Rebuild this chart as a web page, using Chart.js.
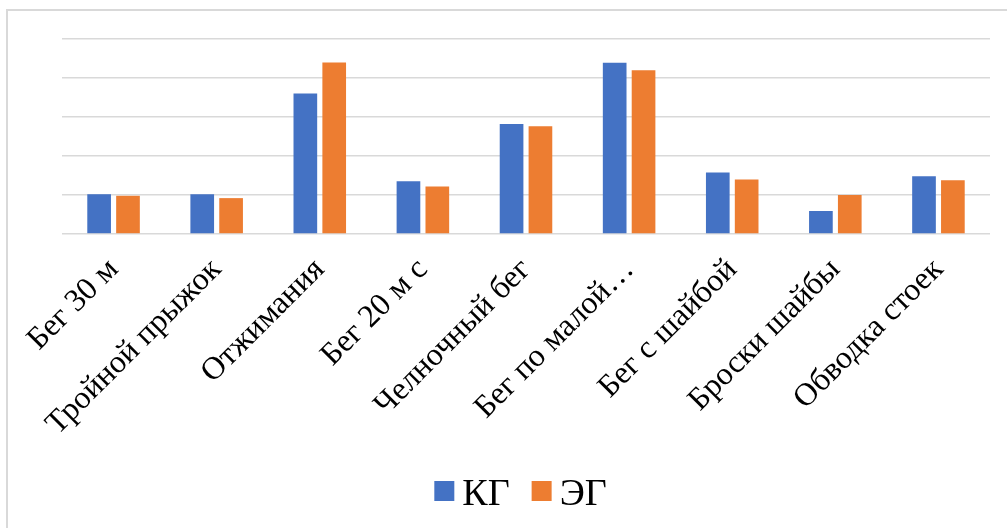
<!DOCTYPE html>
<html>
<head>
<meta charset="utf-8">
<script src="https://cdn.jsdelivr.net/npm/chart.js@4/dist/chart.umd.min.js"></script>
<style>
  html, body { margin: 0; padding: 0; background: #fff; }
  body { width: 1007px; height: 528px; overflow: hidden; position: relative; }
  #frame {
    position: absolute; left: 6px; top: 9px;
    width: 1001px; height: 519px;
    border-left: 2px solid #d9d9d9; border-top: 2px solid #d9d9d9;
    box-sizing: border-box;
  }
  #wrap { position: absolute; left: 0; top: 0; width: 999px; height: 517px; }
</style>
</head>
<body>
<div id="frame"><div id="wrap"><canvas id="chart"></canvas></div></div>
<script>
// Тесты и результаты контрольной (КГ) и экспериментальной (ЭГ) групп
const categories = [
  'Бег 30 м', 'Тройной прыжок', 'Отжимания', 'Бег 20 м с',
  'Челночный бег', 'Бег по малой…', 'Бег с шайбой', 'Броски шайбы', 'Обводка стоек'
];
const seriesNames = ['КГ', 'ЭГ'];
const kgValues = [1.02, 1.02, 3.60, 1.35, 2.82, 4.39, 1.58, 0.59, 1.48];
const egValues = [0.98, 0.92, 4.40, 1.22, 2.76, 4.20, 1.40, 1.00, 1.38];
const yTicks = [0, 1, 2, 3, 4, 5];

const serif = '"Liberation Serif", "Times New Roman", serif';

// Компактная легенда внизу: квадрат цвета серии и подпись рядом
const compactLegend = {
  id: 'compactLegend',
  afterDraw(chart) {
    const ctx = chart.ctx;
    const box = 20, gap = 8, itemGap = 22, fontSize = 38;
    ctx.save();
    ctx.font = fontSize + 'px ' + serif;
    const items = chart.data.datasets.map(ds => ({
      text: ds.label, color: ds.backgroundColor, w: ctx.measureText(ds.label).width
    }));
    const total = items.reduce((s, it) => s + box + gap + it.w, 0) + itemGap * (items.length - 1);
    let x = chart.width / 2 + 13 - total / 2;
    const baseline = 494;
    items.forEach(it => {
      ctx.fillStyle = it.color;
      ctx.fillRect(x, baseline - 24, box, box);
      ctx.fillStyle = '#000';
      ctx.textBaseline = 'alphabetic';
      ctx.textAlign = 'left';
      ctx.fillText(it.text, x + box + gap, baseline);
      x += box + gap + it.w + itemGap;
    });
    ctx.restore();
  }
};

new Chart(document.getElementById('chart'), {
  type: 'bar',
  data: {
    labels: categories,
    datasets: [
      { label: seriesNames[0], data: kgValues, backgroundColor: '#4472C4',
        categoryPercentage: 0.56, barPercentage: 0.82 },
      { label: seriesNames[1], data: egValues, backgroundColor: '#ED7D31',
        categoryPercentage: 0.56, barPercentage: 0.82 }
    ]
  },
  plugins: [compactLegend],
  options: {
    responsive: true,
    maintainAspectRatio: false,
    animation: false,
    layout: { padding: { left: 54, right: 17, top: 28, bottom: 8 } },
    plugins: {
      tooltip: { enabled: false },
      legend: { display: false }
    },
    scales: {
      x: {
        grid: { display: false },
        border: { display: false },
        afterFit: (s) => { s.height = 286; },
        ticks: {
          color: '#000', autoSkip: false, padding: 9,
          maxRotation: 45, minRotation: 45,
          font: { family: serif, size: 32 }
        }
      },
      y: {
        min: yTicks[0], max: yTicks[yTicks.length - 1],
        afterBuildTicks: (s) => { s.ticks = yTicks.map(v => ({ value: v })); },
        grid: { color: '#d9d9d9', lineWidth: 1.6, drawTicks: false },
        border: { display: false },
        ticks: { display: false }
      }
    }
  }
});
</script>
</body>
</html>
